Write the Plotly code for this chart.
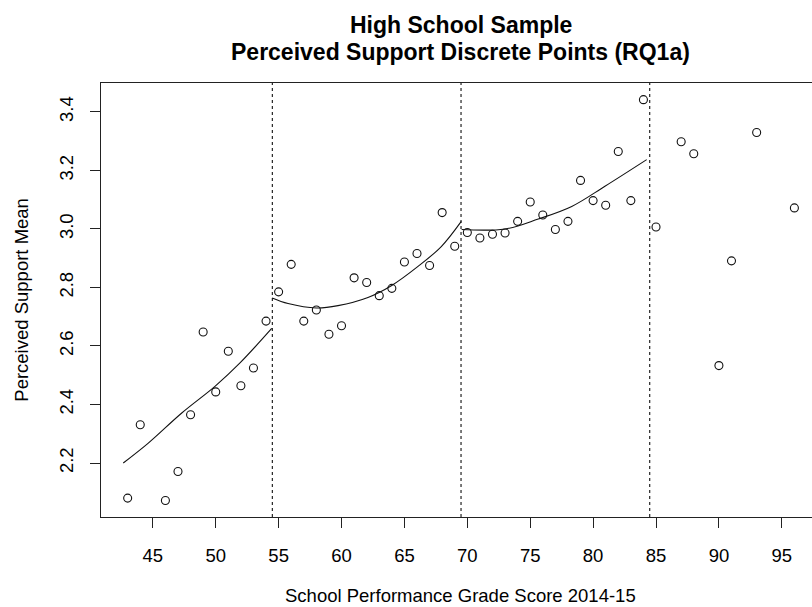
import plotly.graph_objects as go

# ---- data ----
score = [43, 44, 46, 47, 48, 49, 50, 51, 52, 53, 54,
         55, 56, 57, 58, 59, 60, 61, 62, 63, 64, 65, 66, 67, 68, 69,
         70, 71, 72, 73, 74, 75, 76, 77, 78, 79, 80, 81, 82, 83, 84,
         85, 87, 88, 90, 91, 93, 96]
support = [2.080, 2.331, 2.072, 2.171, 2.365, 2.648, 2.443, 2.582, 2.464, 2.525, 2.685,
           2.785, 2.879, 2.685, 2.723, 2.640, 2.669, 2.833, 2.817, 2.772, 2.797, 2.887, 2.916, 2.875, 3.056, 2.941,
           2.988, 2.969, 2.982, 2.986, 3.026, 3.092, 3.048, 2.998, 3.026, 3.166, 3.097, 3.081, 3.265, 3.097, 3.442,
           3.007, 3.298, 3.257, 2.533, 2.891, 3.330, 3.072]

fit1_x = [42.65, 44.64, 47.3, 49.94, 51.93, 54.45]
fit1_y = [2.200, 2.268, 2.371, 2.462, 2.542, 2.660]
fit2_x = [54.48, 55.75, 58.0, 59.72, 62.1, 63.96, 66.08, 67.93, 69.52]
fit2_y = [2.764, 2.745, 2.730, 2.738, 2.766, 2.806, 2.872, 2.940, 3.026]
fit3_x = [69.55, 73.0, 75.64, 78.3, 80.94, 84.26]
fit3_y = [2.998, 3.000, 3.034, 3.077, 3.146, 3.237]

cutoffs = [54.5, 69.5, 84.5]

x_ticks = [45, 50, 55, 60, 65, 70, 75, 80, 85, 90, 95]
y_ticks = [2.2, 2.4, 2.6, 2.8, 3.0, 3.2, 3.4]
y_tick_text = ["2.2", "2.4", "2.6", "2.8", "3.0", "3.2", "3.4"]

title_lines = ["High School Sample", "Perceived Support Discrete Points (RQ1a)"]
x_title = "School Performance Grade Score 2014-15"
y_title = "Perceived Support Mean"

FONT = "Liberation Sans, Arial, sans-serif"

fig = go.Figure()

fig.add_trace(go.Scatter(
    x=score, y=support, mode="markers",
    marker=dict(symbol="circle-open", size=8, color="#111111", line=dict(width=1.1)),
    showlegend=False, hoverinfo="x+y"))

for fx, fy in [(fit1_x, fit1_y), (fit2_x, fit2_y), (fit3_x, fit3_y)]:
    fig.add_trace(go.Scatter(x=fx, y=fy, mode="lines",
                             line=dict(color="#111111", width=1.1, shape="spline"),
                             showlegend=False, hoverinfo="skip"))

for c in cutoffs:
    fig.add_shape(type="line", xref="x", yref="paper", x0=c, x1=c, y0=0, y1=1,
                  line=dict(color="#111111", width=1.1, dash="dot"))

fig.update_layout(
    width=812, height=607,
    margin=dict(l=101, r=0, t=83, b=90),
    paper_bgcolor="white", plot_bgcolor="white",
    font=dict(family=FONT, size=18, color="black"),
    showlegend=False,
)

fig.update_xaxes(
    range=[40.88, 97.40], tickvals=x_ticks, ticks="outside", ticklen=10,
    tickcolor="#222222", tickwidth=1, showgrid=False, zeroline=False,
    showline=True, linecolor="#222222", linewidth=1, mirror=True,
    tickfont=dict(size=18.5, family=FONT, color="black"), ticklabelstandoff=12)

fig.update_yaxes(
    range=[2.0154, 3.499], tickvals=y_ticks, ticktext=y_tick_text, ticks="outside",
    ticklen=10, tickcolor="#222222", tickwidth=1, showgrid=False, zeroline=False,
    showline=True, linecolor="#222222", linewidth=1, mirror=False,
    tickangle=-90, tickfont=dict(size=18.5, family=FONT, color="black"),
    ticklabelstandoff=10)

# titles
fig.add_annotation(text="<b>%s</b>" % title_lines[0], xref="paper", yref="paper",
                   x=0.5063, y=1.1343, showarrow=False, xanchor="center", yanchor="middle",
                   font=dict(size=23, family=FONT, color="black"))
fig.add_annotation(text="<b>%s</b>" % title_lines[1], xref="paper", yref="paper",
                   x=0.5063, y=1.0722, showarrow=False, xanchor="center", yanchor="middle",
                   font=dict(size=23, family=FONT, color="black"))
fig.add_annotation(text=x_title, xref="paper", yref="paper",
                   x=0.5063, y=-0.1813, showarrow=False, xanchor="center", yanchor="middle",
                   font=dict(size=18.5, family=FONT, color="black"))
fig.add_annotation(text=y_title, xref="paper", yref="paper", textangle=-90,
                   x=-0.1111, y=0.5007, showarrow=False, xanchor="center", yanchor="middle",
                   font=dict(size=18.5, family=FONT, color="black"))

fig.write_html("out.html")
